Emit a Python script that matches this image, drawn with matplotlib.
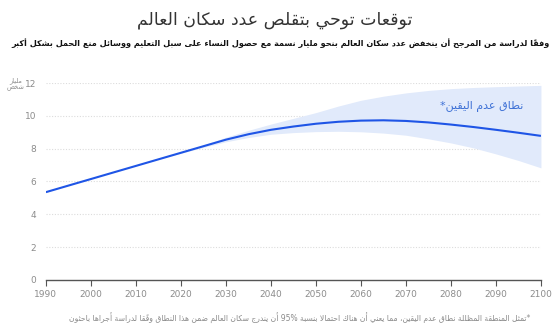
import re
import unicodedata
import matplotlib
matplotlib.use("Agg")
from matplotlib import pyplot as plt

# world population, billions (central estimate)
years = [1990, 1995, 2000, 2005, 2010, 2015, 2020, 2025, 2030, 2035, 2040, 2045,
         2050, 2055, 2060, 2065, 2070, 2075, 2080, 2085, 2090, 2095, 2100]
population = [5.35, 5.75, 6.15, 6.55, 6.95, 7.35, 7.75, 8.15, 8.55, 8.88, 9.15, 9.35,
              9.52, 9.64, 9.71, 9.73, 9.69, 9.60, 9.47, 9.32, 9.15, 8.97, 8.78]

# 95% uncertainty interval
band_years = [2017, 2020, 2025, 2030, 2035, 2040, 2045, 2050, 2055, 2060, 2065,
              2070, 2075, 2080, 2085, 2090, 2095, 2100]
band_upper = [7.50, 7.78, 8.22, 8.70, 9.12, 9.50, 9.85, 10.20, 10.60, 10.95, 11.20,
              11.40, 11.55, 11.66, 11.73, 11.78, 11.82, 11.86]
band_lower = [7.50, 7.72, 8.08, 8.42, 8.68, 8.88, 8.98, 9.04, 9.06, 9.03, 8.95,
              8.82, 8.60, 8.35, 8.05, 7.68, 7.28, 6.83]

xticks = list(range(1990, 2101, 10))
yticks = [0, 2, 4, 6, 8, 10, 12]

title = "توقعات توحي بتقلص عدد سكان العالم"
subtitle = ("وفقاً لدراسة من المرجح أن ينخفض عدد سكان العالم بنحو مليار نسمة "
            "مع حصول النساء على سبل التعليم ووسائل منع الحمل بشكل أكبر")
band_label = "نطاق عدم اليقين*"
unit_label = ["مليار", "شخص"]
footnote = ("*تمثل المنطقة المظللة نطاق عدم اليقين، مما يعني أن هناك احتمالا بنسبة 95% "
            "أن يندرج سكان العالم ضمن هذا النطاق وفقًا لدراسة أجراها باحثون")


# --- minimal arabic shaping + rtl ordering (matplotlib has no text layout engine) ---
DUAL = {0x0626: 0xFE89, 0x0628: 0xFE8F, 0x062A: 0xFE95, 0x062B: 0xFE99, 0x062C: 0xFE9D,
        0x062D: 0xFEA1, 0x062E: 0xFEA5, 0x0633: 0xFEB1, 0x0634: 0xFEB5, 0x0635: 0xFEB9,
        0x0636: 0xFEBD, 0x0637: 0xFEC1, 0x0638: 0xFEC5, 0x0639: 0xFEC9, 0x063A: 0xFECD,
        0x0641: 0xFED1, 0x0642: 0xFED5, 0x0643: 0xFED9, 0x0644: 0xFEDD, 0x0645: 0xFEE1,
        0x0646: 0xFEE5, 0x0647: 0xFEE9, 0x064A: 0xFEF1}
RIGHT = {0x0622: 0xFE81, 0x0623: 0xFE83, 0x0624: 0xFE85, 0x0625: 0xFE87, 0x0627: 0xFE8D,
         0x0629: 0xFE93, 0x062F: 0xFEA9, 0x0630: 0xFEAB, 0x0631: 0xFEAD, 0x0632: 0xFEAF,
         0x0648: 0xFEED, 0x0649: 0xFEEF}
LAM_ALEF = {0x0622: 0xFEF5, 0x0623: 0xFEF7, 0x0625: 0xFEF9, 0x0627: 0xFEFB}


def is_mark(ch):
    return unicodedata.category(ch) == "Mn"


def joins(ch):
    return ch is not None and (ord(ch) in DUAL or ord(ch) in RIGHT)


def shape(text):
    # letters without marks, remembering marks per letter
    units = []
    for ch in text:
        if is_mark(ch) and units:
            units[-1][1].append(ch)
        else:
            units.append([ch, []])
    # lam-alef ligatures
    merged = []
    for u in units:
        if (merged and ord(u[0]) in LAM_ALEF and merged[-1][0] == "\u0644"
                and not merged[-1][1]):
            merged[-1] = ["LA" + u[0], u[1]]
        else:
            merged.append(u)
    out = []
    for i, (ch, marks) in enumerate(merged):
        prev = merged[i - 1][0] if i > 0 else None
        nxt = merged[i + 1][0] if i + 1 < len(merged) else None
        if prev is not None and prev.startswith("LA"):
            prev = "\u0627"
        if nxt is not None and nxt.startswith("LA"):
            nxt = "\u0644"
        jp = prev is not None and ord(prev) in DUAL
        if ch.startswith("LA"):
            g = chr(LAM_ALEF[ord(ch[2])] + (1 if jp else 0))
        elif ord(ch) in DUAL:
            jn = joins(nxt)
            base = DUAL[ord(ch)]
            if jp and jn:
                g = chr(base + 3)
            elif jp:
                g = chr(base + 1)
            elif jn:
                g = chr(base + 2)
            else:
                g = chr(base)
        elif ord(ch) in RIGHT:
            g = chr(RIGHT[ord(ch)] + (1 if jp else 0))
        else:
            g = ch
        out.append(g + "".join(marks))
    return out


def rtl(text):
    clusters = shape(text)
    items = []
    for c in clusters:
        if re.match(r"[0-9%]", c) and items and re.match(r"^[0-9%]+$", items[-1]):
            items[-1] += c
        else:
            items.append(c)
    return "".join(reversed(items))


plt.rcParams["font.family"] = ["DejaVu Sans"]

blue = "#1f55e6"
band_col = "#e1eafb"
grey = "#8c8c8c"

fig = plt.figure(figsize=(5.6, 3.27), dpi=100)
ax = fig.add_axes([0.082, 0.144, 0.884, 0.602])

ax.fill_between(band_years, band_lower, band_upper, color=band_col, lw=0, zorder=1)
ax.plot(years, population, color=blue, lw=1.5, zorder=3, solid_capstyle="butt")

ax.set_xlim(1990, 2100)
ax.set_ylim(0, 12)
ax.set_xticks(xticks)
ax.set_yticks(yticks)
ax.tick_params(axis="x", colors="#555555", labelcolor=grey, labelsize=6.5,
               length=4, width=0.8, pad=3)
ax.tick_params(axis="y", labelcolor=grey, labelsize=6.5, length=0, pad=7)
for s in ["top", "right", "left"]:
    ax.spines[s].set_visible(False)
ax.spines["bottom"].set_color("#555555")
ax.spines["bottom"].set_linewidth(1)
ax.yaxis.grid(True, color="#dcdcdc", linestyle=(0, (1, 1.5)), lw=0.8, zorder=0)
for gl in ax.yaxis.get_gridlines()[:1]:
    gl.set_visible(False)
ax.set_axisbelow(True)

ax.text(2096, 10.55, rtl(band_label), color="#3f72d6", fontsize=8, ha="right", va="center")

fig.text(0.028, 0.742, rtl(unit_label[0]) + "\n" + rtl(unit_label[1]), color=grey,
         fontsize=4.8, ha="center", va="center", linespacing=1.1)

fig.text(0.49, 0.94, rtl(title), fontsize=12.5, color="#333333", ha="center", va="center")
fig.text(0.5, 0.868, rtl(subtitle), fontsize=5.9, fontweight="bold", color="#111111",
         ha="center", va="center")
fig.text(0.947, 0.028, rtl(footnote), fontsize=5.5, color="#8a8a8a", ha="right", va="center")

fig.savefig("out.png", dpi=100)
